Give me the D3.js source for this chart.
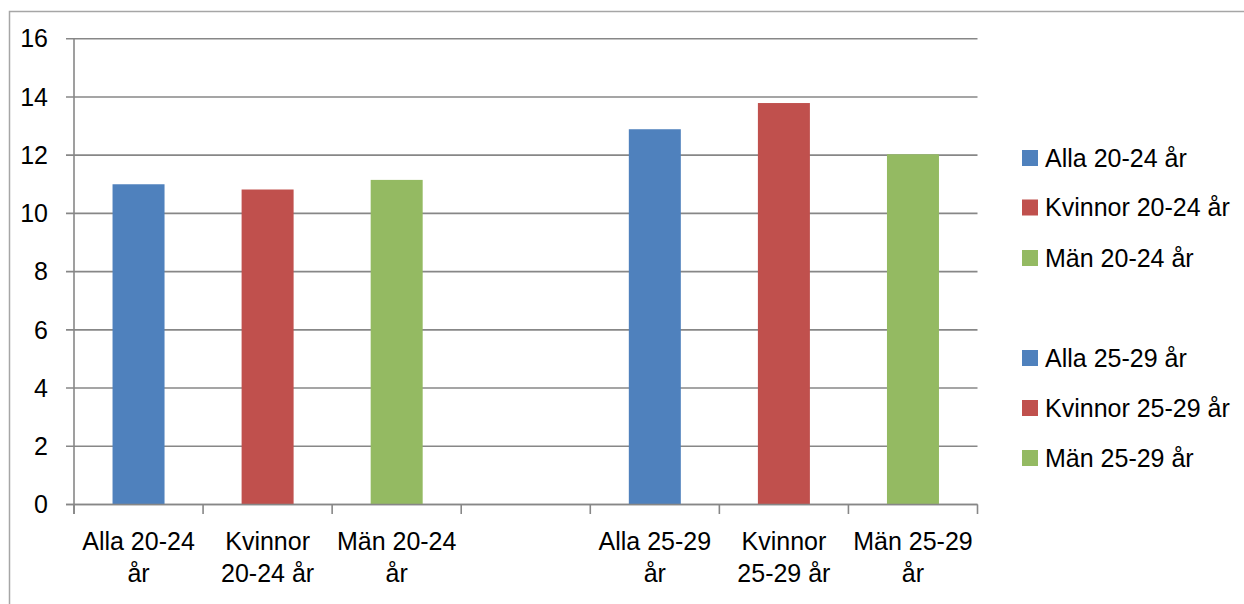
<!DOCTYPE html>
<html><head><meta charset="utf-8">
<script src="https://cdn.jsdelivr.net/npm/d3@7"></script>
<style>html,body{margin:0;padding:0;background:#fff;}svg{display:block;font-family:"Liberation Sans",Arial,sans-serif;}</style>
</head><body>
<svg id="c" width="1244" height="604"></svg>
<script>
const categories = ["Alla 20-24 år","Kvinnor 20-24 år","Män 20-24 år","","Alla 25-29 år","Kvinnor 25-29 år","Män 25-29 år"];
const labelLines = [["Alla 20-24","år"],["Kvinnor","20-24 år"],["Män 20-24","år"],[],["Alla 25-29","år"],["Kvinnor","25-29 år"],["Män 25-29","år"]];
const values = [11.0, 10.82, 11.15, null, 12.89, 13.79, 12.03];
const barColors = ["#4F81BD","#C0504D","#94BA62",null,"#4F81BD","#C0504D","#94BA62"];
const legendLabels = ["Alla 20-24 år","Kvinnor 20-24 år","Män 20-24 år","Alla 25-29 år","Kvinnor 25-29 år","Män 25-29 år"];
const legendColors = ["#4F81BD","#C0504D","#94BA62","#4F81BD","#C0504D","#94BA62"];
const yTicks = [0,2,4,6,8,10,12,14,16];

const svg = d3.select("#c");
const grid = "#878787";
// outer frame
svg.append("path").attr("d","M9.5,604 V11.5 H1244").attr("fill","none").attr("stroke","#a6a6a6").attr("stroke-width",1.5);

const x0 = 74, x1 = 977.5, yb = 504.5, yt = 38.7;
const x = d3.scaleBand().domain(d3.range(categories.length)).range([x0,x1]).paddingInner(0).paddingOuter(0);
const y = d3.scaleLinear().domain([0,16]).range([yb,yt]);

// gridlines + y ticks
svg.append("g").selectAll("line").data(yTicks).join("line")
  .attr("x1",66).attr("x2",x1).attr("y1",d=>y(d)).attr("y2",d=>y(d))
  .attr("stroke",grid).attr("stroke-width",1.6);
svg.append("g").selectAll("text").data(yTicks).join("text")
  .attr("x",48).attr("y",d=>y(d)).attr("dy","0.35em").attr("text-anchor","end")
  .attr("font-size",25).attr("fill","#000").text(d=>d);

// bars
const bw = 52;
svg.append("g").selectAll("rect").data(values.map((v,i)=>({v,i})).filter(d=>d.v!=null)).join("rect")
  .attr("x",d=>x(d.i)+x.bandwidth()/2-bw/2).attr("width",bw)
  .attr("y",d=>y(d.v)).attr("height",d=>yb-y(d.v))
  .attr("fill",d=>barColors[d.i]);

// axes lines
svg.append("line").attr("x1",x0).attr("x2",x0).attr("y1",yt).attr("y2",514).attr("stroke",grid).attr("stroke-width",1.6);
svg.append("line").attr("x1",66).attr("x2",x1).attr("y1",yb).attr("y2",yb).attr("stroke",grid).attr("stroke-width",1.6);
const xt = d3.range(categories.length+1).map(i=> i<categories.length ? x(i) : x1);
svg.append("g").selectAll("line").data(xt).join("line")
  .attr("x1",d=>d).attr("x2",d=>d).attr("y1",yb).attr("y2",514)
  .attr("stroke",grid).attr("stroke-width",1.6);

// x labels
const xl = svg.append("g");
labelLines.forEach((lines,i)=>{
  lines.forEach((t,j)=>{
    xl.append("text").attr("x",x(i)+x.bandwidth()/2).attr("y",550+j*32)
      .attr("text-anchor","middle").attr("font-size",25).attr("fill","#000").text(t);
  });
});

// legend
const ly = [158,207.5,258,358,408,458];
const lg = svg.append("g");
legendLabels.forEach((t,i)=>{
  lg.append("rect").attr("x",1022).attr("y",ly[i]-8).attr("width",16).attr("height",16).attr("fill",legendColors[i]);
  lg.append("text").attr("x",1045).attr("y",ly[i]).attr("dy","0.35em").attr("font-size",25).attr("fill","#000").text(t);
});
</script>
</body></html>
